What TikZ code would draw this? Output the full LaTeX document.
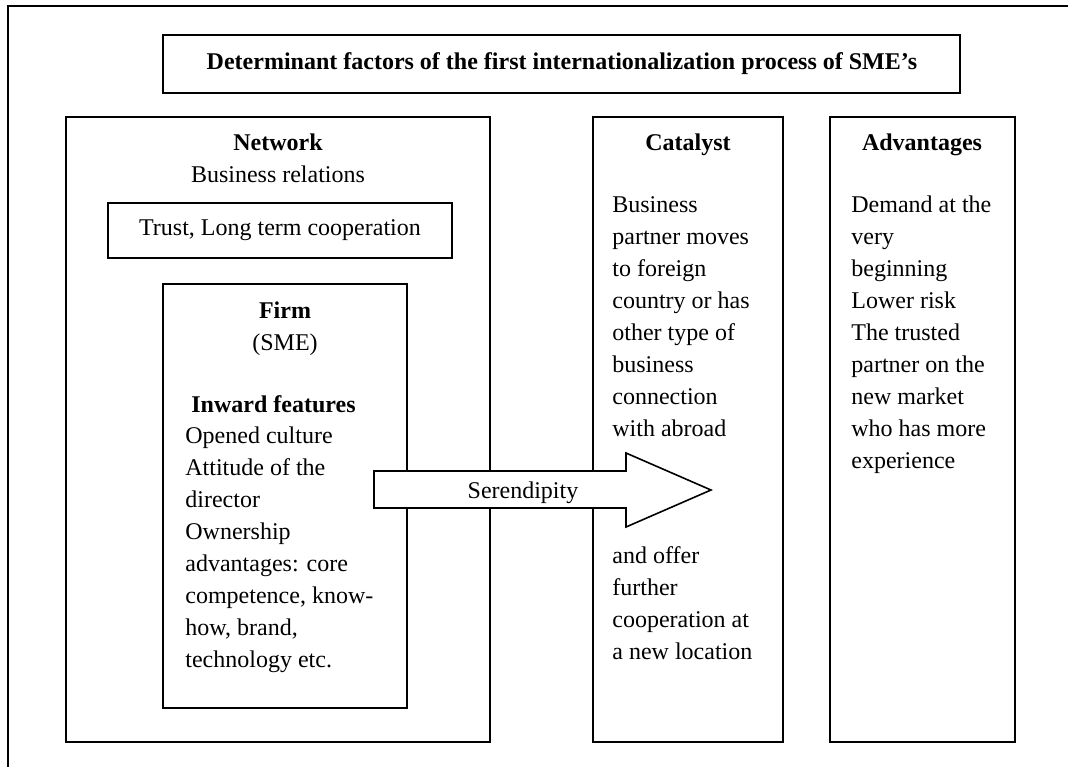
\documentclass[tikz,border=0pt]{standalone}
\usepackage{fontspec}
\setmainfont{Liberation Serif}
% 多行文字，基线取第一行
\newcommand{\boxlines}[1]{\parbox[t]{6cm}{#1}}
\begin{document}
\begin{tikzpicture}[x=0.5pt, y=-0.5pt,
    frame/.style={line width=1pt},
    head/.style={font=\fontsize{12}{16}\selectfont\bfseries, anchor=base, inner sep=0pt},
    plain/.style={font=\fontsize{12}{16}\selectfont, anchor=base, inner sep=0pt},
    body/.style={font=\fontsize{12}{16}\selectfont, anchor=base west, inner sep=0pt}]
  \useasboundingbox (0,0) rectangle (1072,767);

  % 外框（只画上边和左边）
  \draw[frame] (1068,6) -- (8,6) -- (8,767);

  % 标题
  \draw[frame] (163,35) rectangle (960,93);
  \node[head] (title) at (562,69) {Determinant factors of the first internationalization process of SME’s};

  % 网络
  \draw[frame] (66,117) rectangle (490,742);
  \node[head] (network) at (278,150) {Network};
  \node[plain] (relations) at (278,182) {Business relations};
  \draw[frame] (108,203) rectangle (452,258);
  \node[plain] (trust) at (280,235) {Trust, Long term cooperation};

  % 企业（SME）
  \draw[frame] (163,284) rectangle (407,708);
  \node[head] (firm) at (285,318) {Firm};
  \node[plain] (sme) at (285,350) {(SME)};
  \node[head, anchor=base west] (inward) at (191,412) {Inward features};
  \node[body] (features) at (185,443) {\boxlines{Opened culture\\Attitude of the\\director\\Ownership\\advantages: core\\competence, know-\\how, brand,\\technology etc.}};

  % 催化剂
  \draw[frame] (593,117) rectangle (783,742);
  \node[head] (catalyst) at (688,150) {Catalyst};
  \node[body] (moves) at (612,212) {\boxlines{Business\\partner moves\\to foreign\\country or has\\other type of\\business\\connection\\with abroad}};
  \node[body] (offer) at (612,563) {\boxlines{and offer\\further\\cooperation at\\a new location}};

  % 优势
  \draw[frame] (830,117) rectangle (1015,742);
  \node[head] (advantages) at (922,150) {Advantages};
  \node[body] (gains) at (851,212) {\boxlines{Demand at the\\very\\beginning\\Lower risk\\The trusted\\partner on the\\new market\\who has more\\experience}};

  % 偶然性箭头（白色填充，盖住框线）
  \draw[line width=0.8pt, fill=white] (374,471) -- (626,471) -- (626,453) -- (711,490)
    -- (626,527) -- (626,508) -- (374,508) -- cycle;
  \node[font=\fontsize{12}{14}\selectfont, anchor=base, inner sep=0pt] (serendipity) at (523,498) {Serendipity};
\end{tikzpicture}
\end{document}
